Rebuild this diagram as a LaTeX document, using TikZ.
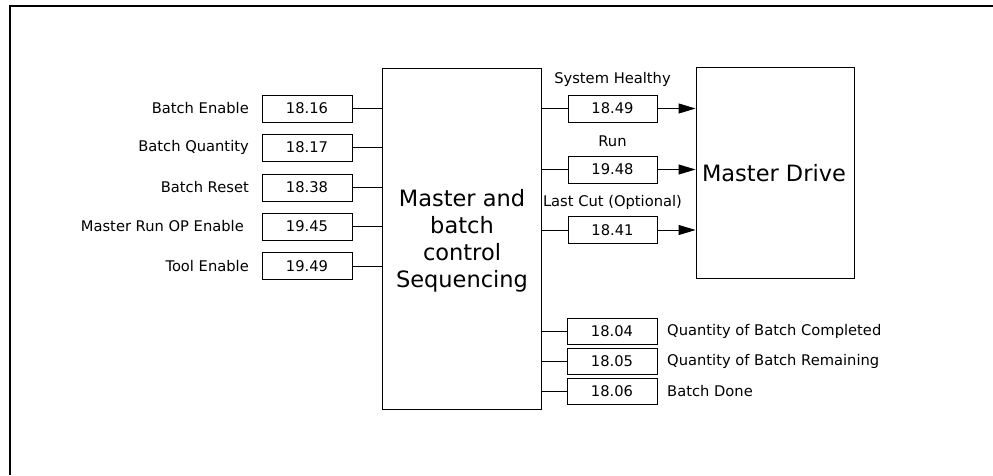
\documentclass[tikz,border=0pt]{standalone}
\usepackage{fontspec}
\setmainfont{DejaVu Sans}
\usetikzlibrary{arrows.meta}
\begin{document}
\begin{tikzpicture}[x=1pt,y=-1pt,
  every node/.style={font=\fontsize{14.7}{17.6}\selectfont},
  regbox/.style={draw=black,line width=0.9pt,rectangle,inner sep=0pt,minimum width=90pt,minimum height=27pt},
  bigbox/.style={draw=black,line width=0.9pt,rectangle,inner sep=0pt},
  bigtext/.style={inner sep=0pt,align=center,font=\fontsize{22.5}{27}\selectfont},
  wire/.style={draw=black,line width=0.9pt},
  arr/.style={wire,-{Triangle[length=17pt,width=10pt]}},
  lbl/.style={inner sep=0pt}
]
\useasboundingbox (0,0) rectangle (993,475);
% frame (top and left edges)
\coordinate (ftl) at (10,6);
\coordinate (ftr) at (993,6);
\coordinate (fbl) at (10,475);
\draw[line width=1.2pt] (ftr) -- (ftl) -- (fbl);

% main box
\node[bigbox,minimum width=159pt,minimum height=341pt] (main) at (461.5,238.5) {};
\node[bigtext] (maintext) at (462,241) {Master and\\batch\\control\\Sequencing};
% master drive
\node[bigbox,minimum width=158pt,minimum height=211pt] (drive) at (775,172.5) {};
\node[bigtext] (drivetext) at (774,173) {Master Drive};

% inputs
\node[regbox] (i1) at (307,108.5) {18.16};
\node[regbox] (i2) at (307,147.5) {18.17};
\node[regbox] (i3) at (307,187.5) {18.38};
\node[regbox] (i4) at (307,226.5) {19.45};
\node[regbox] (i5) at (307,266) {19.49};
\node[lbl,anchor=east] (l1) at (249,108.5) {Batch Enable};
\node[lbl,anchor=east] (l2) at (249,147.5) {Batch Quantity};
\node[lbl,anchor=east] (l3) at (249,187.5) {Batch Reset};
\node[lbl,anchor=east] (l4) at (244,226.5) {Master Run OP Enable};
\node[lbl,anchor=east] (l5) at (249,266) {Tool Enable};
\foreach \n in {i1,i2,i3,i4,i5}{
  \draw[wire] (\n.east) -- (\n.east -| main.west);
}

% outputs to drive
\node[regbox,minimum width=89pt] (o1) at (612.5,108.5) {18.49};
\node[regbox,minimum width=89pt] (o2) at (612.5,169.5) {19.48};
\node[regbox,minimum width=89pt] (o3) at (612.5,230) {18.41};
\node[lbl] (ol1) at (612.5,79) {System Healthy};
\node[lbl] (ol2) at (612.5,141) {Run};
\node[lbl] (ol3) at (612.5,202) {Last Cut (Optional)};
\foreach \n in {o1,o2,o3}{
  \draw[wire] (\n.west -| main.east) -- (\n.west);
  \draw[arr] (\n.east) -- (\n.east -| drive.west);
}

% status outputs
\node[regbox,minimum height=26pt] (s1) at (612,331) {18.04};
\node[regbox,minimum height=26pt] (s2) at (612,361.5) {18.05};
\node[regbox,minimum height=26pt] (s3) at (612,391) {18.06};
\node[lbl,anchor=west] (sl1) at (667,331) {Quantity of Batch Completed};
\node[lbl,anchor=west] (sl2) at (667,361.5) {Quantity of Batch Remaining};
\node[lbl,anchor=west] (sl3) at (667,391) {Batch Done};
\foreach \n in {s1,s2,s3}{
  \draw[wire] (\n.west -| main.east) -- (\n.west);
}
\end{tikzpicture}
\end{document}
